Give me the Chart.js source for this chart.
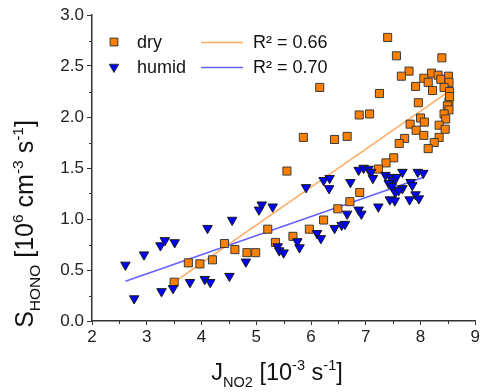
<!DOCTYPE html>
<html>
<head>
<meta charset="utf-8">
<script src="https://cdn.jsdelivr.net/npm/chart.js@4"></script>
<style>
  body { margin: 0; background: #fff; }
  #wrap { width: 482px; height: 392px; }
</style>
</head>
<body>
<div id="wrap"><canvas id="mainChart" width="482" height="392"></canvas></div>
<script>
// data
var dryX = [7.40, 7.56, 8.39, 7.79, 7.65, 8.20, 8.32, 8.51, 8.06, 8.14, 8.37, 8.52, 7.91, 8.22, 8.43, 8.53,
  6.16, 7.25, 7.96, 8.52, 8.49, 8.52, 8.43, 6.88, 7.07, 8.00, 8.07, 8.46, 7.81, 8.34, 7.92, 8.45, 8.06, 8.34,
  5.86, 6.43, 6.66, 7.71, 7.61, 8.25, 8.14, 7.51, 7.37, 7.23, 5.56, 6.89, 6.71, 6.49, 6.23, 5.97, 5.67,
  5.21, 5.35, 4.42, 4.61, 4.83, 4.99, 3.76, 3.97, 4.20, 3.50, 8.53];
var dryY = [2.78, 2.60, 2.58, 2.45, 2.40, 2.43, 2.41, 2.40, 2.38, 2.34, 2.37, 2.34, 2.30, 2.26, 2.29, 2.25,
  2.29, 2.23, 2.14, 2.15, 2.11, 2.07, 2.03, 2.02, 2.03, 1.99, 1.95, 1.98, 1.93, 1.92, 1.87, 1.88, 1.82, 1.80,
  1.80, 1.78, 1.81, 1.79, 1.74, 1.75, 1.69, 1.60, 1.55, 1.49, 1.47, 1.26, 1.17, 1.10, 0.99, 0.90, 0.83,
  0.90, 0.77, 0.76, 0.70, 0.67, 0.67, 0.57, 0.56, 0.60, 0.38, 2.20];

var humidX = [2.61, 2.77, 2.95, 3.25, 3.33, 3.51, 3.27, 3.48, 3.79, 4.06, 4.16, 4.11, 4.56, 4.51, 4.81,
  5.05, 5.10, 5.30, 5.39, 5.42, 5.50, 5.75, 5.79, 5.91, 6.11, 6.18, 6.23, 6.34, 6.33, 6.43, 6.56, 6.62,
  6.66, 6.72, 6.87, 6.92, 6.87, 6.96, 7.05, 7.10, 7.13, 7.23, 7.36, 7.45, 7.51, 7.56, 7.67, 7.42, 7.48,
  7.67, 7.54, 7.82, 7.85, 7.95, 8.05, 7.91, 7.97, 7.44, 7.53, 7.80, 7.60];
var humidY = [0.55, 0.22, 0.65, 0.74, 0.79, 0.77, 0.29, 0.32, 0.38, 0.41, 0.38, 0.91, 0.99, 0.44, 0.58,
  1.09, 1.14, 1.12, 0.73, 0.69, 0.67, 0.78, 0.72, 1.31, 0.86, 0.81, 1.38, 1.40, 1.30, 0.91, 0.94, 0.95,
  1.05, 1.36, 1.09, 1.05, 1.48, 1.50, 1.49, 1.46, 1.40, 1.12, 1.43, 1.41, 1.38, 1.41, 1.46, 1.35, 1.32,
  1.30, 1.26, 1.36, 1.33, 1.46, 1.45, 1.24, 1.20, 1.19, 1.18, 1.19, 1.28];

// linear fits (end points)
var fitDryX = [3.50, 8.46];
var fitDryY = [0.38, 2.23];
var fitHumidX = [2.61, 8.06];
var fitHumidY = [0.39, 1.41];

var seriesNames = ['dry', 'humid'];
var fitLabels = ['R\u00B2 = 0.66', 'R\u00B2 = 0.70'];
var xTicks = [2, 3, 4, 5, 6, 7, 8, 9];
var yTicks = [0, 0.5, 1, 1.5, 2, 2.5, 3];

function pts(xs, ys) {
  return xs.map(function (x, i) { return { x: x, y: ys[i] }; });
}

var FONT = '"Liberation Sans", Arial, sans-serif';
var orange = '#ff8000';
var blue = '#0000ff';
var orangeLine = 'rgba(255,150,60,0.8)';
var blueLine = 'rgba(70,70,255,0.85)';
var axisColor = '#333';

// text with sub/superscript parts
function richWidth(ctx, parts, size) {
  var w = 0;
  parts.forEach(function (p) {
    var s = (p.sub || p.sup) ? size * 0.62 : size;
    ctx.font = s + 'px ' + FONT;
    w += ctx.measureText(p.t).width;
  });
  return w;
}
function drawRich(ctx, parts, x, y, size) {
  var w = richWidth(ctx, parts, size);
  var cx = x - w / 2;
  parts.forEach(function (p) {
    var s = (p.sub || p.sup) ? size * 0.62 : size;
    var dy = p.sub ? size * 0.28 : (p.sup ? -size * 0.42 : 0);
    ctx.font = s + 'px ' + FONT;
    ctx.fillText(p.t, cx, y + dy);
    cx += ctx.measureText(p.t).width;
  });
}

var xTitle = [{ t: 'J' }, { t: 'NO2', sub: true }, { t: ' [10' }, { t: '-3', sup: true }, { t: ' s' }, { t: '-1', sup: true }, { t: ']' }];
var yTitle = [{ t: 'S' }, { t: 'HONO', sub: true }, { t: ' [10' }, { t: '6', sup: true }, { t: ' cm' }, { t: '-3', sup: true }, { t: ' s' }, { t: '-1', sup: true }, { t: ']' }];

var extras = {
  id: 'extras',
  afterDraw: function (chart) {
    var ctx = chart.ctx;
    var xs = chart.scales.x, ys = chart.scales.y;
    var area = chart.chartArea;
    ctx.save();
    // minor ticks
    ctx.strokeStyle = axisColor;
    ctx.lineWidth = 1;
    ctx.beginPath();
    for (var i = 0; i < xTicks.length - 1; i++) {
      var px = Math.round(xs.getPixelForValue((xTicks[i] + xTicks[i + 1]) / 2)) + 0.5;
      ctx.moveTo(px, area.bottom);
      ctx.lineTo(px, area.bottom + 3);
    }
    for (var j = 0; j < yTicks.length - 1; j++) {
      var py = Math.round(ys.getPixelForValue((yTicks[j] + yTicks[j + 1]) / 2)) + 0.5;
      ctx.moveTo(area.left, py);
      ctx.lineTo(area.left - 3, py);
    }
    ctx.stroke();

    // axis titles
    ctx.fillStyle = '#111';
    ctx.textBaseline = 'alphabetic';
    ctx.textAlign = 'left';
    drawRich(ctx, xTitle, 277, 380, 23.5);
    ctx.save();
    ctx.translate(33, 224);
    ctx.rotate(-Math.PI / 2);
    drawRich(ctx, yTitle, 0, 0, 25);
    ctx.restore();

    // legend
    var rows = [42, 67];
    var styles = [
      { fill: orange, style: 'rect', rot: 0, r: 5.5, line: orangeLine },
      { fill: blue, style: 'triangle', rot: 180, r: 5.5, line: blueLine }
    ];
    ctx.textBaseline = 'middle';
    rows.forEach(function (yy, k) {
      var st = styles[k];
      ctx.fillStyle = st.fill;
      ctx.strokeStyle = '#333';
      ctx.lineWidth = 1;
      Chart.helpers.drawPoint(ctx, { pointStyle: st.style, radius: st.r, rotation: st.rot, borderWidth: 1 }, 114, yy);
      ctx.fillStyle = '#111';
      ctx.font = '18px ' + FONT;
      ctx.fillText(seriesNames[k], 137, yy + 1);
      ctx.strokeStyle = st.line;
      ctx.lineWidth = 1.5;
      ctx.beginPath();
      ctx.moveTo(201, yy + 0.5);
      ctx.lineTo(243, yy + 0.5);
      ctx.stroke();
      ctx.fillText(fitLabels[k], 253, yy + 1);
    });
    ctx.restore();
  }
};

var ctx = document.getElementById('mainChart').getContext('2d');
var chart = new Chart(ctx, {
  type: 'scatter',
  data: {
    datasets: [{
      label: seriesNames[0],
      data: pts(dryX, dryY),
      pointStyle: 'rect',
      pointRadius: 5.7,
      backgroundColor: orange,
      borderColor: '#3a3a3a',
      borderWidth: 1,
      order: 2
    }, {
      label: seriesNames[1],
      data: pts(humidX, humidY),
      pointStyle: 'triangle',
      rotation: 180,
      pointRadius: 5.5,
      backgroundColor: blue,
      borderColor: '#1a1a1a',
      borderWidth: 1,
      order: 1
    }, {
      type: 'line',
      label: fitLabels[0],
      data: pts(fitDryX, fitDryY),
      borderColor: orangeLine,
      borderWidth: 1.5,
      pointRadius: 0,
      fill: false,
      order: 3
    }, {
      type: 'line',
      label: fitLabels[1],
      data: pts(fitHumidX, fitHumidY),
      borderColor: blueLine,
      borderWidth: 1.5,
      pointRadius: 0,
      fill: false,
      order: 4
    }]
  },
  options: {
    responsive: false,
    animation: false,
    layout: { padding: { left: 0, right: 6, top: 15, bottom: 0 } },
    plugins: {
      legend: { display: false },
      tooltip: { enabled: false }
    },
    scales: {
      x: {
        type: 'linear',
        min: 2,
        max: 9,
        afterFit: function (scale) { scale.height = 71; },
        afterBuildTicks: function (scale) { scale.ticks = xTicks.map(function (v) { return { value: v }; }); },
        border: { display: true, color: axisColor, width: 1.5 },
        grid: { drawOnChartArea: false, drawTicks: true, tickLength: 4, color: axisColor, tickColor: axisColor },
        ticks: {
          color: '#222',
          padding: 2,
          maxRotation: 0,
          font: { family: FONT, size: 17 },
          callback: function (v) { return v; }
        }
      },
      y: {
        type: 'linear',
        min: 0,
        max: 3,
        afterFit: function (scale) { scale.width = 92; },
        afterBuildTicks: function (scale) { scale.ticks = yTicks.map(function (v) { return { value: v }; }); },
        border: { display: true, color: axisColor, width: 1.5 },
        grid: { drawOnChartArea: false, drawTicks: true, tickLength: 5, color: axisColor, tickColor: axisColor },
        ticks: {
          color: '#222',
          padding: 3,
          font: { family: FONT, size: 17 },
          callback: function (v) { return Number(v).toFixed(1); }
        }
      }
    }
  },
  plugins: [extras]
});
</script>
</body>
</html>
